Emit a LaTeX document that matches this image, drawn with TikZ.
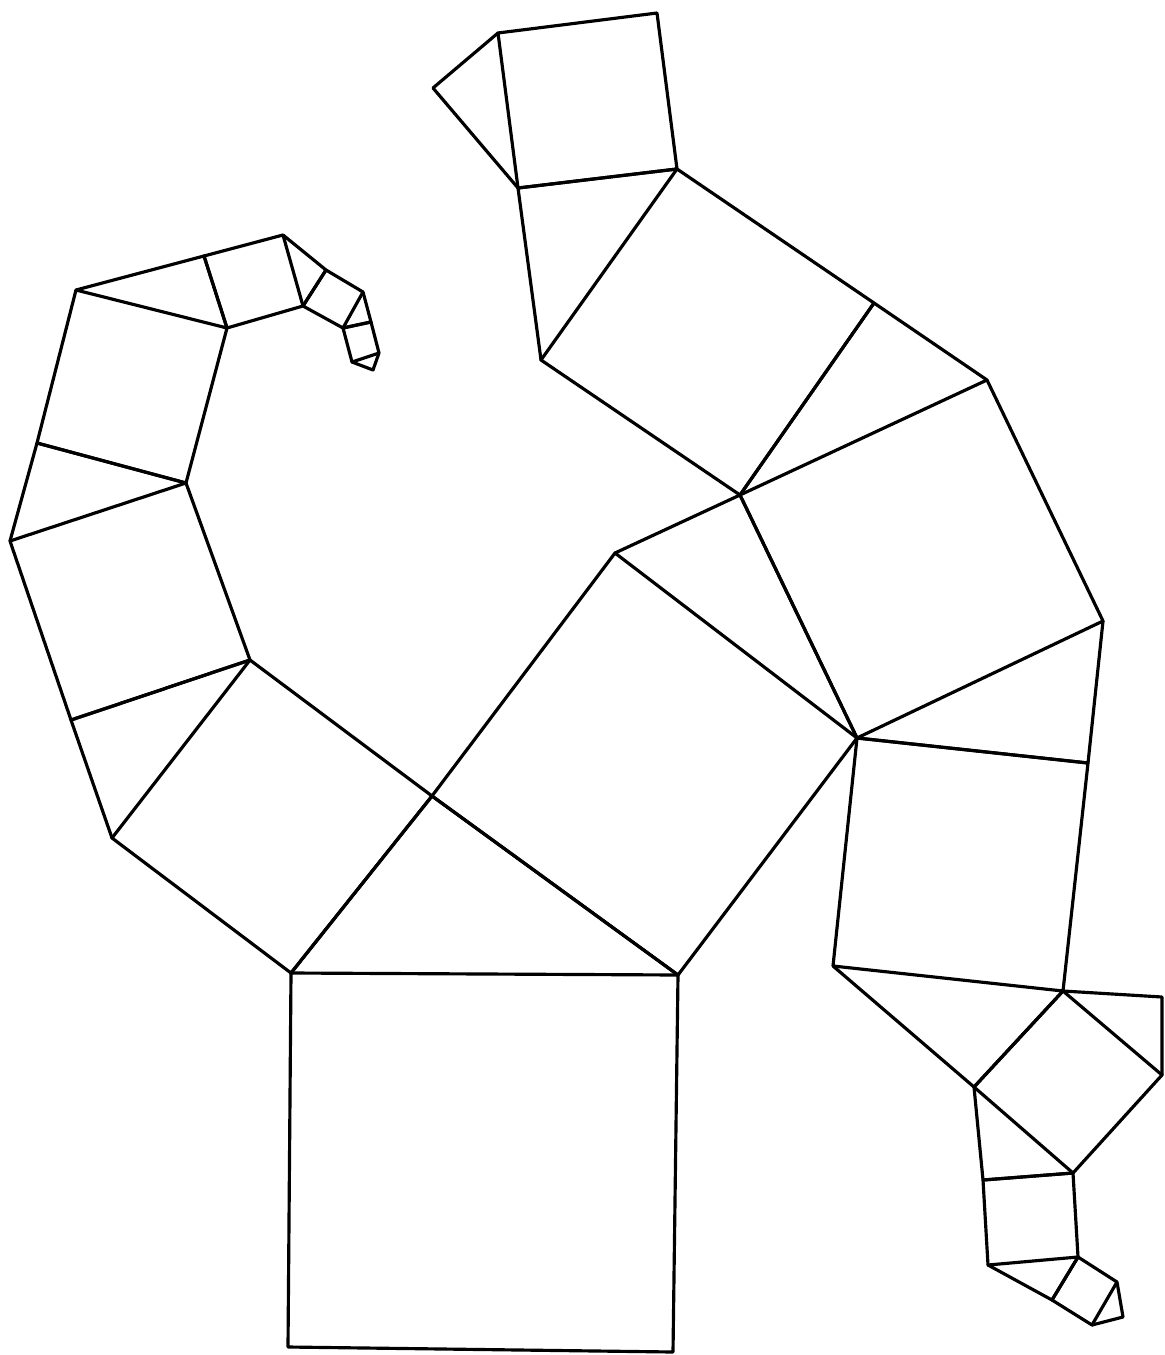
\documentclass[tikz,border=0pt]{standalone}
\usepackage{tikz}
\usepackage{xcolor}

\begin{document}
\begin{tikzpicture}[x=0.02cm,y=-0.02cm,line width=1.8pt,line join=round,line cap=round]
\useasboundingbox (0,0) rectangle (1164,1355);
\coordinate (b1) at (291,973);
\coordinate (b2) at (678,975);
\coordinate (b3) at (673,1352);
\coordinate (b4) at (288,1347);
\coordinate (t0) at (432,796);
\coordinate (l1a) at (112,838);
\coordinate (l1b) at (250,660);
\coordinate (t1) at (71,720);
\coordinate (a1) at (186,483);
\coordinate (a2) at (10,541);
\coordinate (t2) at (37,443);
\coordinate (s1) at (227,328);
\coordinate (s2) at (76,290);
\coordinate (t3) at (204,256);
\coordinate (c1) at (283,235);
\coordinate (c2) at (303,306);
\coordinate (t4) at (326,270);
\coordinate (d1) at (363,292);
\coordinate (d2) at (343,328);
\coordinate (t5) at (371,322);
\coordinate (e1) at (379,353);
\coordinate (e2) at (352,362);
\coordinate (t6) at (373,370);
\coordinate (r1a) at (857,738);
\coordinate (r1b) at (615,553);
\coordinate (t7) at (740,495);
\coordinate (f1) at (1103,621);
\coordinate (f2) at (987,380);
\coordinate (t8) at (874,303);
\coordinate (g1) at (677,169);
\coordinate (g2) at (541,360);
\coordinate (t9) at (518,188);
\coordinate (h1) at (657,13);
\coordinate (h2) at (498,33);
\coordinate (t10) at (433,88);
\coordinate (t11) at (1088,763);
\coordinate (i1) at (1063,991);
\coordinate (i2) at (833,966);
\coordinate (t12) at (974,1087);
\coordinate (j1) at (1162,1075);
\coordinate (j2) at (1073,1173);
\coordinate (t13) at (1162,997);
\coordinate (t14) at (983,1180);
\coordinate (k1) at (1078,1257);
\coordinate (k2) at (988,1265);
\coordinate (t15) at (1052,1300);
\coordinate (m1) at (1117,1282);
\coordinate (m2) at (1092,1325);
\coordinate (t16) at (1123,1317);
\draw (b1) -- (b2) -- (b3) -- (b4) -- cycle;
\draw (b1) -- (t0) -- (b2);
\draw (t0) -- (b1) -- (l1a) -- (l1b) -- cycle;
\draw (l1a) -- (t1) -- (l1b);
\draw (t1) -- (l1b) -- (a1) -- (a2) -- cycle;
\draw (a2) -- (t2) -- (a1);
\draw (t2) -- (a1) -- (s1) -- (s2) -- cycle;
\draw (s2) -- (t3) -- (s1);
\draw (t3) -- (c1) -- (c2) -- (s1) -- cycle;
\draw (c1) -- (t4) -- (c2);
\draw (t4) -- (d1) -- (d2) -- (c2) -- cycle;
\draw (d1) -- (t5) -- (d2);
\draw (d2) -- (t5) -- (e1) -- (e2) -- cycle;
\draw (e2) -- (t6) -- (e1);
\draw (t0) -- (b2) -- (r1a) -- (r1b) -- cycle;
\draw (r1b) -- (t7) -- (r1a);
\draw (t7) -- (r1a) -- (f1) -- (f2) -- cycle;
\draw (t7) -- (t8) -- (f2);
\draw (t7) -- (t8) -- (g1) -- (g2) -- cycle;
\draw (g2) -- (t9) -- (g1);
\draw (t9) -- (g1) -- (h1) -- (h2) -- cycle;
\draw (h2) -- (t10) -- (t9);
\draw (r1a) -- (t11) -- (f1);
\draw (r1a) -- (t11) -- (i1) -- (i2) -- cycle;
\draw (i2) -- (t12) -- (i1);
\draw (t12) -- (i1) -- (j1) -- (j2) -- cycle;
\draw (i1) -- (t13) -- (j1);
\draw (t12) -- (t14) -- (j2);
\draw (t14) -- (j2) -- (k1) -- (k2) -- cycle;
\draw (k2) -- (t15) -- (k1);
\draw (t15) -- (k1) -- (m1) -- (m2) -- cycle;
\draw (m1) -- (t16) -- (m2);
\end{tikzpicture}
\end{document}
